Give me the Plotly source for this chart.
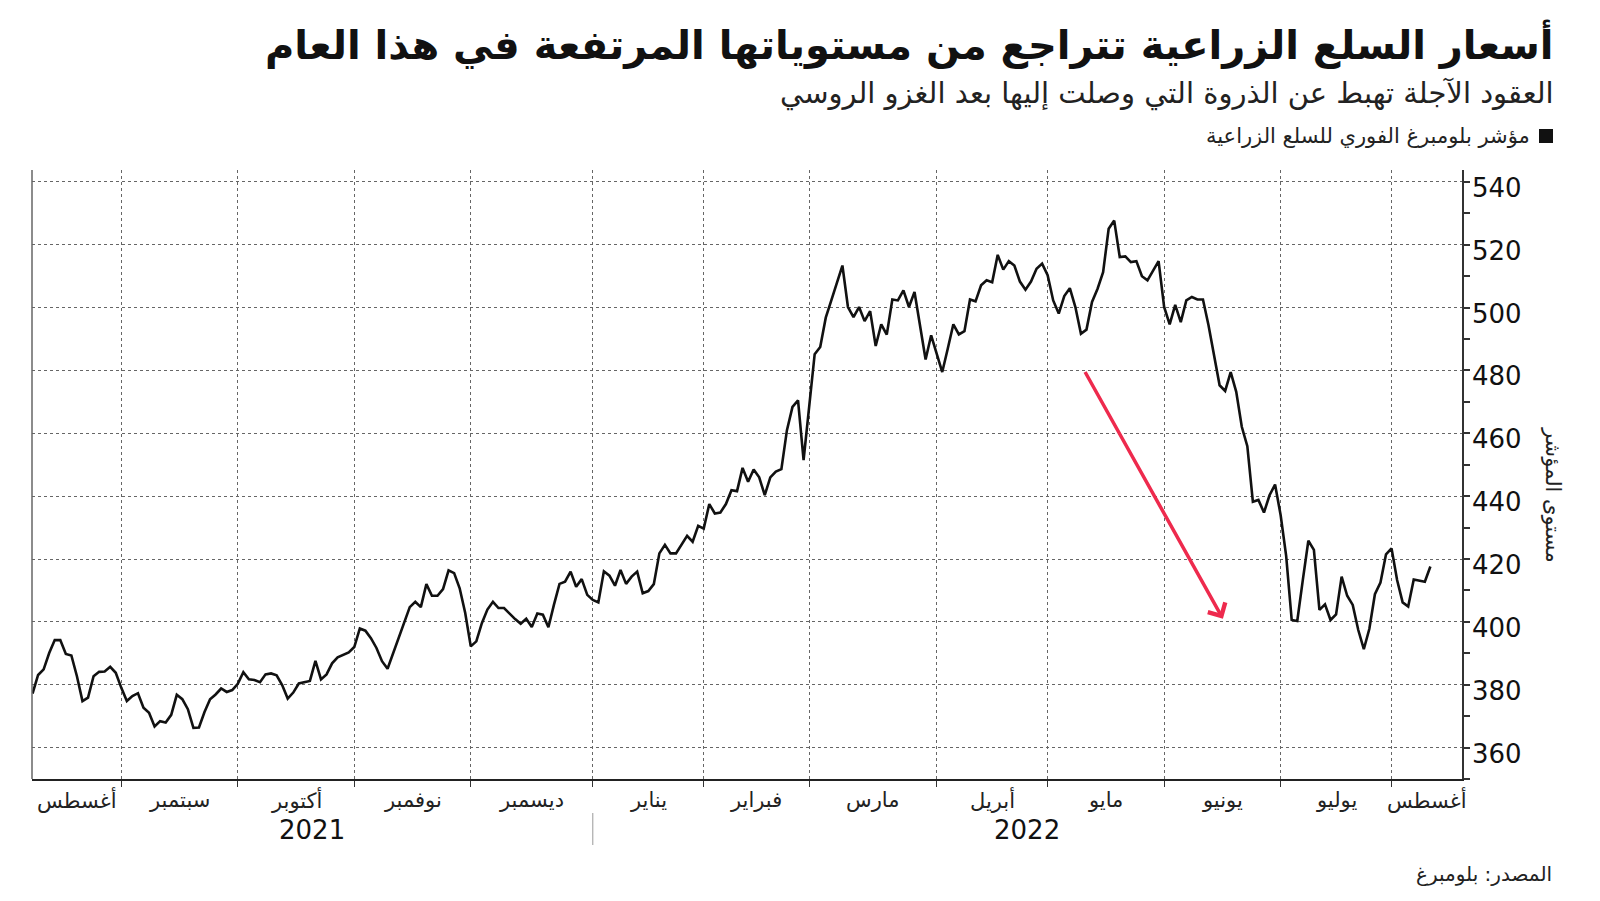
import plotly.graph_objects as go
import pandas as pd

# ---------------- data ----------------
HOLIDAYS = ["2021-09-06", "2021-11-25", "2021-12-24", "2022-01-17", "2022-02-21",
            "2022-04-15", "2022-05-30", "2022-06-20", "2022-07-04"]
dates = pd.bdate_range("2021-08-10", "2022-08-10", freq="C", holidays=HOLIDAYS)

values = [
    377.2, 383.1, 384.9, 390.1, 394.2, 394.2, 389.8, 389.3, 382.7, 374.8,
    375.9, 382.7, 384.1, 384.2, 385.7, 383.8, 379.0, 374.8, 376.4, 377.3,
    372.7, 371.1, 366.7, 368.4, 368.0, 370.4, 376.8, 375.4, 372.2, 366.3,
    366.4, 371.3, 375.4, 376.9, 378.8, 377.7, 378.3, 380.3, 384.0, 381.7,
    381.5, 380.8, 383.3, 383.6, 383.0, 379.9, 375.6, 377.5, 380.4, 380.8,
    381.2, 387.6, 381.7, 383.3, 386.8, 388.7, 389.4, 390.3, 392.0, 397.9,
    397.2, 394.8, 391.7, 387.5, 385.1, 390.1, 395.4, 400.2, 404.7, 406.4,
    404.7, 412.0, 408.3, 408.3, 410.4, 416.4, 415.5, 410.7, 402.8, 392.2,
    393.8, 399.6, 403.9, 406.4, 404.4, 404.4, 402.5, 400.9, 399.4, 401.0,
    398.4, 402.7, 402.3, 398.3, 405.5, 412.1, 412.8, 416.0, 411.2, 413.6,
    408.6, 407.0, 406.2, 416.1, 414.7, 411.5, 416.5, 412.1, 414.4, 416.0,
    409.1, 409.8, 412.0, 421.8, 424.5, 421.8, 421.8, 424.5, 427.4, 425.5,
    430.6, 429.7, 437.5, 434.5, 434.8, 437.5, 441.9, 441.6, 449.0, 444.6,
    448.5, 446.0, 440.3, 446.0, 447.8, 448.6, 461.0, 468.4, 470.5, 451.5,
    469.0, 485.2, 487.5, 496.8, 502.3, 508.1, 513.4, 500.2, 497.0, 500.2,
    495.7, 498.9, 487.8, 494.7, 491.4, 502.6, 502.3, 505.5, 500.2, 505.0,
    494.4, 483.5, 491.2, 485.4, 479.5, 487.0, 494.7, 491.5, 492.5, 502.6,
    502.0, 507.1, 508.7, 508.1, 516.8, 512.1, 514.8, 513.4, 508.3, 505.7,
    508.3, 512.4, 514.0, 510.3, 502.3, 498.1, 503.7, 506.2, 500.2, 491.7,
    493.0, 501.8, 506.0, 511.3, 525.1, 527.7, 516.1, 516.3, 514.5, 514.8,
    510.0, 508.7, 511.8, 514.8, 500.2, 494.7, 500.9, 495.4, 502.3, 503.4,
    502.6, 502.6, 494.4, 484.8, 475.3, 473.5, 479.5, 473.2, 462.1, 455.9,
    438.2, 438.8, 434.8, 440.3, 443.7, 434.0, 421.0, 400.6, 400.3, 413.3,
    425.8, 422.9, 403.8, 405.6, 400.6, 402.4, 414.4, 408.3, 405.4, 397.4,
    391.3, 397.8, 408.8, 412.5, 421.5, 423.4, 413.3, 406.2, 404.9, 413.5,
    413.2, 412.8, 417.6,
]

month_names = {8: "أغسطس", 9: "سبتمبر", 10: "أكتوبر", 11: "نوفمبر", 12: "ديسمبر",
               1: "يناير", 2: "فبراير", 3: "مارس", 4: "أبريل", 5: "مايو",
               6: "يونيو", 7: "يوليو"}
y_ticks = [360, 380, 400, 420, 440, 460, 480, 500, 520, 540]

# arrow annotation (trading-day index, index level)
arrow_x = [189.6, 214.6]
arrow_y = [480, 401]

title = "أسعار السلع الزراعية تتراجع من مستوياتها المرتفعة في هذا العام"
subtitle = "العقود الآجلة تهبط عن الذروة التي وصلت إليها بعد الغزو الروسي"
legend_text = "مؤشر بلومبرغ الفوري للسلع الزراعية"
y_title = "مستوى المؤشر"
source = "المصدر: بلومبرغ"

# ---------------- layout helpers ----------------
W, H = 1600, 901
L, R, T, B = 32, 138, 170, 122
PW, PH = W - L - R, H - T - B
def px(xp):
    return (xp - L) / PW
def py(yp):
    return (H - B - yp) / PH

FONT = "DejaVu Sans"
n = min(len(dates), len(values))
x = list(range(n))
X_MIN, X_MAX = -0.1, 257.7
Y_MIN, Y_MAX = 350, 543.8

month_starts = [i for i in range(1, n) if dates[i].month != dates[i - 1].month]
bounds = [X_MIN] + month_starts + [X_MAX]
seg_first = [0] + month_starts
month_pos = [(bounds[k] + bounds[k + 1]) / 2 for k in range(len(seg_first))]
month_txt = [month_names[dates[i].month] for i in seg_first]

year_starts = [i for i in range(1, n) if dates[i].year != dates[i - 1].year]
ybounds = [X_MIN] + year_starts + [X_MAX]
yfirst = [0] + year_starts
year_pos = [(ybounds[k] + ybounds[k + 1]) / 2 for k in range(len(yfirst))]
year_txt = [str(dates[i].year) for i in yfirst]

fig = go.Figure()
fig.add_trace(go.Scatter(x=x, y=values[:n], mode="lines",
                         line=dict(color="#111111", width=2.6),
                         hoverinfo="skip", showlegend=False))
# triangle tick markers on the right axis
fig.add_trace(go.Scatter(x=[X_MAX + 0.75] * len(y_ticks), y=y_ticks, mode="markers",
                         marker=dict(symbol="triangle-right", size=8, color="#333333"),
                         cliponaxis=False, hoverinfo="skip", showlegend=False))

ann = []
ann.append(dict(text=title, x=px(1556), y=py(44), xref="paper", yref="paper",
                xanchor="right", yanchor="middle", showarrow=False,
                font=dict(family=FONT, size=40, color="#111111", weight=700)))
ann.append(dict(text=subtitle, x=px(1556), y=py(94), xref="paper", yref="paper",
                xanchor="right", yanchor="middle", showarrow=False,
                font=dict(family=FONT, size=29, color="#222222")))
ann.append(dict(text=legend_text, x=px(1532), y=py(136), xref="paper", yref="paper",
                xanchor="right", yanchor="middle", showarrow=False,
                font=dict(family=FONT, size=21, color="#222222")))
ann.append(dict(text=source, x=px(1554), y=py(874), xref="paper", yref="paper",
                xanchor="right", yanchor="middle", showarrow=False,
                font=dict(family=FONT, size=20, color="#222222")))
ann.append(dict(text=y_title, x=px(1553), y=py(495), xref="paper", yref="paper",
                xanchor="center", yanchor="middle", showarrow=False, textangle=90,
                font=dict(family=FONT, size=21, color="#222222")))
# y tick labels (slightly below their ticks, as in the reference)
for v in y_ticks:
    ann.append(dict(text=str(v), x=1, y=v, xref="paper", yref="y",
                    xanchor="left", yanchor="middle", xshift=8, yshift=-6,
                    showarrow=False,
                    font=dict(family=FONT, size=26, color="#111111")))
for p, t in zip(month_pos, month_txt):
    ann.append(dict(text=t, x=p, y=py(800), xref="x", yref="paper",
                    xanchor="center", yanchor="middle", showarrow=False,
                    font=dict(family=FONT, size=21, color="#222222")))
for p, t in zip(year_pos, year_txt):
    ann.append(dict(text=t, x=p, y=py(830), xref="x", yref="paper",
                    xanchor="center", yanchor="middle", showarrow=False,
                    font=dict(family=FONT, size=26, color="#111111")))
ann.append(dict(x=arrow_x[1], y=arrow_y[1], ax=arrow_x[0], ay=arrow_y[0],
                xref="x", yref="y", axref="x", ayref="y", text="",
                showarrow=True, arrowhead=4, arrowsize=1.1, arrowwidth=3.5,
                arrowcolor="#ee2a4d", standoff=0))

shapes = [
    dict(type="line", xref="paper", yref="paper", x0=0, x1=0, y0=0, y1=1,
         line=dict(color="#666666", width=1.5)),
    dict(type="rect", xref="paper", yref="paper", x0=px(1539), x1=px(1553),
         y0=py(143), y1=py(129), fillcolor="#111111", line=dict(width=0)),
]
for ys in year_starts:
    shapes.append(dict(type="line", xref="x", yref="paper", x0=ys, x1=ys,
                       y0=py(813), y1=py(845), line=dict(color="#999999", width=1)))

fig.update_layout(
    width=W, height=H, margin=dict(l=L, r=R, t=T, b=B, pad=0),
    paper_bgcolor="white", plot_bgcolor="white",
    font=dict(family=FONT, color="#222222"),
    annotations=ann, shapes=shapes, showlegend=False,
    xaxis=dict(range=[X_MIN, X_MAX], tickvals=month_starts,
               ticktext=[""] * len(month_starts), ticks="outside", ticklen=6,
               tickcolor="#333333", tickwidth=1, showgrid=True, gridcolor="#666666",
               griddash="dot", gridwidth=1, showline=True, linecolor="#222222",
               linewidth=2, zeroline=False, fixedrange=True),
    yaxis=dict(range=[Y_MIN, Y_MAX], side="right", tickvals=y_ticks, ticks="",
               showticklabels=False,
               showgrid=True, gridcolor="#666666", griddash="dot", gridwidth=1,
               showline=True, linecolor="#333333", linewidth=2, zeroline=False,
               minor=dict(dtick=10, tick0=0, ticks="outside", ticklen=6,
                          tickcolor="#333333", tickwidth=1.5, showgrid=False)),
)

fig.write_html("out.html")
